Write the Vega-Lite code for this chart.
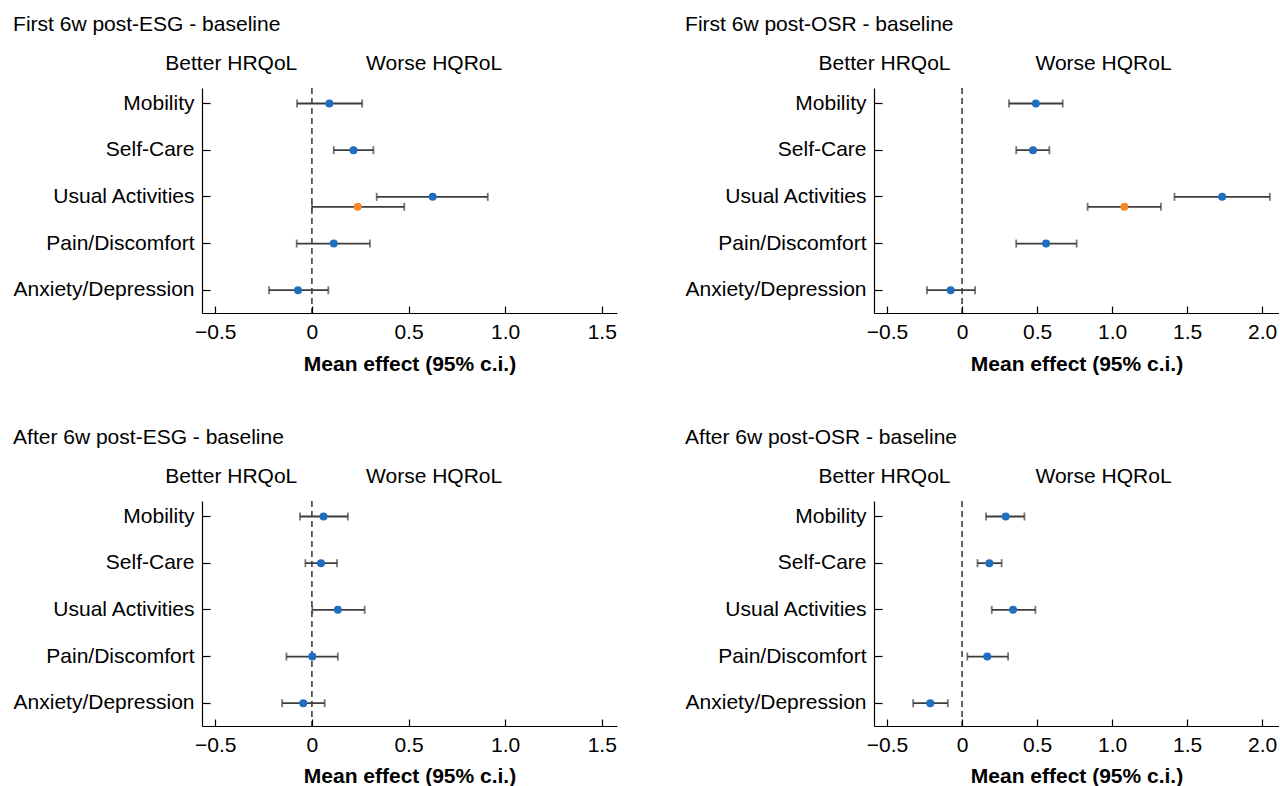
{
  "$schema": "https://vega.github.io/schema/vega-lite/v6.json",
  "padding": {"left": 13, "top": 14, "right": 0, "bottom": 0},
  "background": "white",
  "config": {
    "font": "Liberation Sans",
    "view": {"stroke": null},
    "axis": {"grid": false, "labelFont": "Liberation Sans", "titleFont": "Liberation Sans", "labelFontSize": 21, "titleFontSize": 21, "labelColor": "black", "titleColor": "black", "domainColor": "black", "tickColor": "black", "domainWidth": 1.2, "tickWidth": 1.2},
    "axisY": {"labelLimit": 0},
    "title": {"font": "Liberation Sans", "fontSize": 21, "fontWeight": "normal", "anchor": "start", "frame": "bounds", "offset": 17, "color": "black"}
  },
  "datasets": {
    "d": [
      {"panel": "First 6w post-ESG - baseline", "dim": "Mobility", "series": "main", "est": 0.09, "lo": -0.077, "hi": 0.26},
      {"panel": "First 6w post-ESG - baseline", "dim": "Self-Care", "series": "main", "est": 0.215, "lo": 0.113, "hi": 0.318},
      {"panel": "First 6w post-ESG - baseline", "dim": "Usual Activities", "series": "main", "est": 0.625, "lo": 0.335, "hi": 0.91},
      {"panel": "First 6w post-ESG - baseline", "dim": "Usual Activities", "series": "alt", "est": 0.237, "lo": 0.0, "hi": 0.478},
      {"panel": "First 6w post-ESG - baseline", "dim": "Pain/Discomfort", "series": "main", "est": 0.113, "lo": -0.079, "hi": 0.3},
      {"panel": "First 6w post-ESG - baseline", "dim": "Anxiety/Depression", "series": "main", "est": -0.072, "lo": -0.222, "hi": 0.085},
      {"panel": "First 6w post-OSR - baseline", "dim": "Mobility", "series": "main", "est": 0.492, "lo": 0.313, "hi": 0.671},
      {"panel": "First 6w post-OSR - baseline", "dim": "Self-Care", "series": "main", "est": 0.473, "lo": 0.361, "hi": 0.582},
      {"panel": "First 6w post-OSR - baseline", "dim": "Usual Activities", "series": "main", "est": 1.734, "lo": 1.416, "hi": 2.052},
      {"panel": "First 6w post-OSR - baseline", "dim": "Usual Activities", "series": "alt", "est": 1.082, "lo": 0.837, "hi": 1.326},
      {"panel": "First 6w post-OSR - baseline", "dim": "Pain/Discomfort", "series": "main", "est": 0.56, "lo": 0.361, "hi": 0.764},
      {"panel": "First 6w post-OSR - baseline", "dim": "Anxiety/Depression", "series": "main", "est": -0.076, "lo": -0.234, "hi": 0.087},
      {"panel": "After 6w post-ESG - baseline", "dim": "Mobility", "series": "main", "est": 0.06, "lo": -0.062, "hi": 0.186},
      {"panel": "After 6w post-ESG - baseline", "dim": "Self-Care", "series": "main", "est": 0.047, "lo": -0.034, "hi": 0.13},
      {"panel": "After 6w post-ESG - baseline", "dim": "Usual Activities", "series": "main", "est": 0.134, "lo": 0.002, "hi": 0.273},
      {"panel": "After 6w post-ESG - baseline", "dim": "Pain/Discomfort", "series": "main", "est": 0.002, "lo": -0.132, "hi": 0.134},
      {"panel": "After 6w post-ESG - baseline", "dim": "Anxiety/Depression", "series": "main", "est": -0.045, "lo": -0.154, "hi": 0.066},
      {"panel": "After 6w post-OSR - baseline", "dim": "Mobility", "series": "main", "est": 0.291, "lo": 0.16, "hi": 0.416},
      {"panel": "After 6w post-OSR - baseline", "dim": "Self-Care", "series": "main", "est": 0.182, "lo": 0.103, "hi": 0.264},
      {"panel": "After 6w post-OSR - baseline", "dim": "Usual Activities", "series": "main", "est": 0.34, "lo": 0.198, "hi": 0.489},
      {"panel": "After 6w post-OSR - baseline", "dim": "Pain/Discomfort", "series": "main", "est": 0.168, "lo": 0.035, "hi": 0.307},
      {"panel": "After 6w post-OSR - baseline", "dim": "Anxiety/Depression", "series": "main", "est": -0.212, "lo": -0.326, "hi": -0.095}
    ]
  },
  "spacing": 53,
  "vconcat": [
    {
      "spacing": 68,
      "hconcat": [
        {
          "title": {"text": "First 6w post-ESG - baseline"},
          "width": 415, "height": 225,
          "data": {"name": "d"},
          "transform": [{"filter": {"field": "panel", "equal": "First 6w post-ESG - baseline"}}],
          "resolve": {"axis": {"x": "independent"}},
          "layer": [
            {"data": {"values": [{"zero": 0}]}, "mark": {"type": "rule", "strokeDash": [6, 4], "color": "black", "strokeWidth": 1.2},
             "encoding": {"x": {"field": "zero", "type": "quantitative", "scale": {"domain": [-0.569, 1.579], "nice": false, "zero": false},
               "axis": {"orient": "top", "values": [-0.42, 0.63], "labelExpr": "datum.value < 0 ? 'Better HRQoL' : 'Worse HQRoL'", "ticks": false, "domain": false, "labelPadding": 19, "labelBaseline": "alphabetic", "title": null, "labelOverlap": false, "labelFlush": false, "labelBound": false}}}},
            {"mark": {"type": "rule", "color": "#3c3c3c", "strokeWidth": 1.8},
             "encoding": {"x": {"field": "lo", "type": "quantitative", "axis": {"orient": "bottom", "values": [-0.5, 0, 0.5, 1, 1.5], "labelExpr": "datum.value == 0 ? '0' : format(datum.value, '.1f')", "tickSize": -7, "labelPadding": 15, "title": "Mean effect (95% c.i.)", "titleFontWeight": "bold", "titlePadding": 11, "labelFlush": false, "labelOverlap": false}},
               "x2": {"field": "hi"},
               "y": {"field": "dim", "type": "nominal", "sort": ["Mobility", "Self-Care", "Usual Activities", "Pain/Discomfort", "Anxiety/Depression"], "scale": {"type": "band", "paddingInner": 1, "paddingOuter": 0.41, "align": 0.405}, "axis": {"title": null, "tickSize": -8, "labelPadding": 16}},
               "yOffset": {"field": "series", "type": "nominal", "scale": {"type": "point", "domain": ["main", "alt"], "range": [0, 10], "padding": 0}}}},
            {"mark": {"type": "tick", "orient": "vertical", "size": 8, "thickness": 1.8, "color": "#3c3c3c"},
             "encoding": {"x": {"field": "lo", "type": "quantitative", "axis": null},
               "y": {"field": "dim", "type": "nominal", "sort": ["Mobility", "Self-Care", "Usual Activities", "Pain/Discomfort", "Anxiety/Depression"], "scale": {"type": "band", "paddingInner": 1, "paddingOuter": 0.41, "align": 0.405}},
               "yOffset": {"field": "series", "type": "nominal", "scale": {"type": "point", "domain": ["main", "alt"], "range": [0, 10], "padding": 0}}}},
            {"mark": {"type": "tick", "orient": "vertical", "size": 8, "thickness": 1.8, "color": "#3c3c3c"},
             "encoding": {"x": {"field": "hi", "type": "quantitative", "axis": null},
               "y": {"field": "dim", "type": "nominal", "sort": ["Mobility", "Self-Care", "Usual Activities", "Pain/Discomfort", "Anxiety/Depression"], "scale": {"type": "band", "paddingInner": 1, "paddingOuter": 0.41, "align": 0.405}},
               "yOffset": {"field": "series", "type": "nominal", "scale": {"type": "point", "domain": ["main", "alt"], "range": [0, 10], "padding": 0}}}},
            {"mark": {"type": "point", "filled": true, "size": 64, "opacity": 1},
             "encoding": {"x": {"field": "est", "type": "quantitative", "axis": null},
               "y": {"field": "dim", "type": "nominal", "sort": ["Mobility", "Self-Care", "Usual Activities", "Pain/Discomfort", "Anxiety/Depression"], "scale": {"type": "band", "paddingInner": 1, "paddingOuter": 0.41, "align": 0.405}},
               "yOffset": {"field": "series", "type": "nominal", "scale": {"type": "point", "domain": ["main", "alt"], "range": [0, 10], "padding": 0}},
               "color": {"field": "series", "type": "nominal", "scale": {"domain": ["main", "alt"], "range": ["#1f6ebf", "#f5892a"]}, "legend": null}}}
          ]
        },
        {
          "title": {"text": "First 6w post-OSR - baseline"},
          "width": 405, "height": 225,
          "data": {"name": "d"},
          "transform": [{"filter": {"field": "panel", "equal": "First 6w post-OSR - baseline"}}],
          "resolve": {"axis": {"x": "independent"}},
          "layer": [
            {"data": {"values": [{"zero": 0}]}, "mark": {"type": "rule", "strokeDash": [6, 4], "color": "black", "strokeWidth": 1.2},
             "encoding": {"x": {"field": "zero", "type": "quantitative", "scale": {"domain": [-0.587, 2.113], "nice": false, "zero": false},
               "axis": {"orient": "top", "values": [-0.52, 0.94], "labelExpr": "datum.value < 0 ? 'Better HRQoL' : 'Worse HQRoL'", "ticks": false, "domain": false, "labelPadding": 19, "labelBaseline": "alphabetic", "title": null, "labelOverlap": false, "labelFlush": false, "labelBound": false}}}},
            {"mark": {"type": "rule", "color": "#3c3c3c", "strokeWidth": 1.8},
             "encoding": {"x": {"field": "lo", "type": "quantitative", "axis": {"orient": "bottom", "values": [-0.5, 0, 0.5, 1, 1.5, 2], "labelExpr": "datum.value == 0 ? '0' : format(datum.value, '.1f')", "tickSize": -7, "labelPadding": 15, "title": "Mean effect (95% c.i.)", "titleFontWeight": "bold", "titlePadding": 11, "labelFlush": false, "labelOverlap": false}},
               "x2": {"field": "hi"},
               "y": {"field": "dim", "type": "nominal", "sort": ["Mobility", "Self-Care", "Usual Activities", "Pain/Discomfort", "Anxiety/Depression"], "scale": {"type": "band", "paddingInner": 1, "paddingOuter": 0.41, "align": 0.405}, "axis": {"title": null, "tickSize": -8, "labelPadding": 16}},
               "yOffset": {"field": "series", "type": "nominal", "scale": {"type": "point", "domain": ["main", "alt"], "range": [0, 10], "padding": 0}}}},
            {"mark": {"type": "tick", "orient": "vertical", "size": 8, "thickness": 1.8, "color": "#3c3c3c"},
             "encoding": {"x": {"field": "lo", "type": "quantitative", "axis": null},
               "y": {"field": "dim", "type": "nominal", "sort": ["Mobility", "Self-Care", "Usual Activities", "Pain/Discomfort", "Anxiety/Depression"], "scale": {"type": "band", "paddingInner": 1, "paddingOuter": 0.41, "align": 0.405}},
               "yOffset": {"field": "series", "type": "nominal", "scale": {"type": "point", "domain": ["main", "alt"], "range": [0, 10], "padding": 0}}}},
            {"mark": {"type": "tick", "orient": "vertical", "size": 8, "thickness": 1.8, "color": "#3c3c3c"},
             "encoding": {"x": {"field": "hi", "type": "quantitative", "axis": null},
               "y": {"field": "dim", "type": "nominal", "sort": ["Mobility", "Self-Care", "Usual Activities", "Pain/Discomfort", "Anxiety/Depression"], "scale": {"type": "band", "paddingInner": 1, "paddingOuter": 0.41, "align": 0.405}},
               "yOffset": {"field": "series", "type": "nominal", "scale": {"type": "point", "domain": ["main", "alt"], "range": [0, 10], "padding": 0}}}},
            {"mark": {"type": "point", "filled": true, "size": 64, "opacity": 1},
             "encoding": {"x": {"field": "est", "type": "quantitative", "axis": null},
               "y": {"field": "dim", "type": "nominal", "sort": ["Mobility", "Self-Care", "Usual Activities", "Pain/Discomfort", "Anxiety/Depression"], "scale": {"type": "band", "paddingInner": 1, "paddingOuter": 0.41, "align": 0.405}},
               "yOffset": {"field": "series", "type": "nominal", "scale": {"type": "point", "domain": ["main", "alt"], "range": [0, 10], "padding": 0}},
               "color": {"field": "series", "type": "nominal", "scale": {"domain": ["main", "alt"], "range": ["#1f6ebf", "#f5892a"]}, "legend": null}}}
          ]
        }
      ]
    },
    {
      "spacing": 68,
      "hconcat": [
        {
          "title": {"text": "After 6w post-ESG - baseline"},
          "width": 415, "height": 225,
          "data": {"name": "d"},
          "transform": [{"filter": {"field": "panel", "equal": "After 6w post-ESG - baseline"}}],
          "resolve": {"axis": {"x": "independent"}},
          "layer": [
            {"data": {"values": [{"zero": 0}]}, "mark": {"type": "rule", "strokeDash": [6, 4], "color": "black", "strokeWidth": 1.2},
             "encoding": {"x": {"field": "zero", "type": "quantitative", "scale": {"domain": [-0.569, 1.579], "nice": false, "zero": false},
               "axis": {"orient": "top", "values": [-0.42, 0.63], "labelExpr": "datum.value < 0 ? 'Better HRQoL' : 'Worse HQRoL'", "ticks": false, "domain": false, "labelPadding": 19, "labelBaseline": "alphabetic", "title": null, "labelOverlap": false, "labelFlush": false, "labelBound": false}}}},
            {"mark": {"type": "rule", "color": "#3c3c3c", "strokeWidth": 1.8},
             "encoding": {"x": {"field": "lo", "type": "quantitative", "axis": {"orient": "bottom", "values": [-0.5, 0, 0.5, 1, 1.5], "labelExpr": "datum.value == 0 ? '0' : format(datum.value, '.1f')", "tickSize": -7, "labelPadding": 15, "title": "Mean effect (95% c.i.)", "titleFontWeight": "bold", "titlePadding": 10, "labelFlush": false, "labelOverlap": false}},
               "x2": {"field": "hi"},
               "y": {"field": "dim", "type": "nominal", "sort": ["Mobility", "Self-Care", "Usual Activities", "Pain/Discomfort", "Anxiety/Depression"], "scale": {"type": "band", "paddingInner": 1, "paddingOuter": 0.41, "align": 0.405}, "axis": {"title": null, "tickSize": -8, "labelPadding": 16}},
               "yOffset": {"field": "series", "type": "nominal", "scale": {"type": "point", "domain": ["main", "alt"], "range": [0, 10], "padding": 0}}}},
            {"mark": {"type": "tick", "orient": "vertical", "size": 8, "thickness": 1.8, "color": "#3c3c3c"},
             "encoding": {"x": {"field": "lo", "type": "quantitative", "axis": null},
               "y": {"field": "dim", "type": "nominal", "sort": ["Mobility", "Self-Care", "Usual Activities", "Pain/Discomfort", "Anxiety/Depression"], "scale": {"type": "band", "paddingInner": 1, "paddingOuter": 0.41, "align": 0.405}},
               "yOffset": {"field": "series", "type": "nominal", "scale": {"type": "point", "domain": ["main", "alt"], "range": [0, 10], "padding": 0}}}},
            {"mark": {"type": "tick", "orient": "vertical", "size": 8, "thickness": 1.8, "color": "#3c3c3c"},
             "encoding": {"x": {"field": "hi", "type": "quantitative", "axis": null},
               "y": {"field": "dim", "type": "nominal", "sort": ["Mobility", "Self-Care", "Usual Activities", "Pain/Discomfort", "Anxiety/Depression"], "scale": {"type": "band", "paddingInner": 1, "paddingOuter": 0.41, "align": 0.405}},
               "yOffset": {"field": "series", "type": "nominal", "scale": {"type": "point", "domain": ["main", "alt"], "range": [0, 10], "padding": 0}}}},
            {"mark": {"type": "point", "filled": true, "size": 64, "opacity": 1},
             "encoding": {"x": {"field": "est", "type": "quantitative", "axis": null},
               "y": {"field": "dim", "type": "nominal", "sort": ["Mobility", "Self-Care", "Usual Activities", "Pain/Discomfort", "Anxiety/Depression"], "scale": {"type": "band", "paddingInner": 1, "paddingOuter": 0.41, "align": 0.405}},
               "yOffset": {"field": "series", "type": "nominal", "scale": {"type": "point", "domain": ["main", "alt"], "range": [0, 10], "padding": 0}},
               "color": {"field": "series", "type": "nominal", "scale": {"domain": ["main", "alt"], "range": ["#1f6ebf", "#f5892a"]}, "legend": null}}}
          ]
        },
        {
          "title": {"text": "After 6w post-OSR - baseline"},
          "width": 405, "height": 225,
          "data": {"name": "d"},
          "transform": [{"filter": {"field": "panel", "equal": "After 6w post-OSR - baseline"}}],
          "resolve": {"axis": {"x": "independent"}},
          "layer": [
            {"data": {"values": [{"zero": 0}]}, "mark": {"type": "rule", "strokeDash": [6, 4], "color": "black", "strokeWidth": 1.2},
             "encoding": {"x": {"field": "zero", "type": "quantitative", "scale": {"domain": [-0.587, 2.113], "nice": false, "zero": false},
               "axis": {"orient": "top", "values": [-0.52, 0.94], "labelExpr": "datum.value < 0 ? 'Better HRQoL' : 'Worse HQRoL'", "ticks": false, "domain": false, "labelPadding": 19, "labelBaseline": "alphabetic", "title": null, "labelOverlap": false, "labelFlush": false, "labelBound": false}}}},
            {"mark": {"type": "rule", "color": "#3c3c3c", "strokeWidth": 1.8},
             "encoding": {"x": {"field": "lo", "type": "quantitative", "axis": {"orient": "bottom", "values": [-0.5, 0, 0.5, 1, 1.5, 2], "labelExpr": "datum.value == 0 ? '0' : format(datum.value, '.1f')", "tickSize": -7, "labelPadding": 15, "title": "Mean effect (95% c.i.)", "titleFontWeight": "bold", "titlePadding": 10, "labelFlush": false, "labelOverlap": false}},
               "x2": {"field": "hi"},
               "y": {"field": "dim", "type": "nominal", "sort": ["Mobility", "Self-Care", "Usual Activities", "Pain/Discomfort", "Anxiety/Depression"], "scale": {"type": "band", "paddingInner": 1, "paddingOuter": 0.41, "align": 0.405}, "axis": {"title": null, "tickSize": -8, "labelPadding": 16}},
               "yOffset": {"field": "series", "type": "nominal", "scale": {"type": "point", "domain": ["main", "alt"], "range": [0, 10], "padding": 0}}}},
            {"mark": {"type": "tick", "orient": "vertical", "size": 8, "thickness": 1.8, "color": "#3c3c3c"},
             "encoding": {"x": {"field": "lo", "type": "quantitative", "axis": null},
               "y": {"field": "dim", "type": "nominal", "sort": ["Mobility", "Self-Care", "Usual Activities", "Pain/Discomfort", "Anxiety/Depression"], "scale": {"type": "band", "paddingInner": 1, "paddingOuter": 0.41, "align": 0.405}},
               "yOffset": {"field": "series", "type": "nominal", "scale": {"type": "point", "domain": ["main", "alt"], "range": [0, 10], "padding": 0}}}},
            {"mark": {"type": "tick", "orient": "vertical", "size": 8, "thickness": 1.8, "color": "#3c3c3c"},
             "encoding": {"x": {"field": "hi", "type": "quantitative", "axis": null},
               "y": {"field": "dim", "type": "nominal", "sort": ["Mobility", "Self-Care", "Usual Activities", "Pain/Discomfort", "Anxiety/Depression"], "scale": {"type": "band", "paddingInner": 1, "paddingOuter": 0.41, "align": 0.405}},
               "yOffset": {"field": "series", "type": "nominal", "scale": {"type": "point", "domain": ["main", "alt"], "range": [0, 10], "padding": 0}}}},
            {"mark": {"type": "point", "filled": true, "size": 64, "opacity": 1},
             "encoding": {"x": {"field": "est", "type": "quantitative", "axis": null},
               "y": {"field": "dim", "type": "nominal", "sort": ["Mobility", "Self-Care", "Usual Activities", "Pain/Discomfort", "Anxiety/Depression"], "scale": {"type": "band", "paddingInner": 1, "paddingOuter": 0.41, "align": 0.405}},
               "yOffset": {"field": "series", "type": "nominal", "scale": {"type": "point", "domain": ["main", "alt"], "range": [0, 10], "padding": 0}},
               "color": {"field": "series", "type": "nominal", "scale": {"domain": ["main", "alt"], "range": ["#1f6ebf", "#f5892a"]}, "legend": null}}}
          ]
        }
      ]
    }
  ]
}
